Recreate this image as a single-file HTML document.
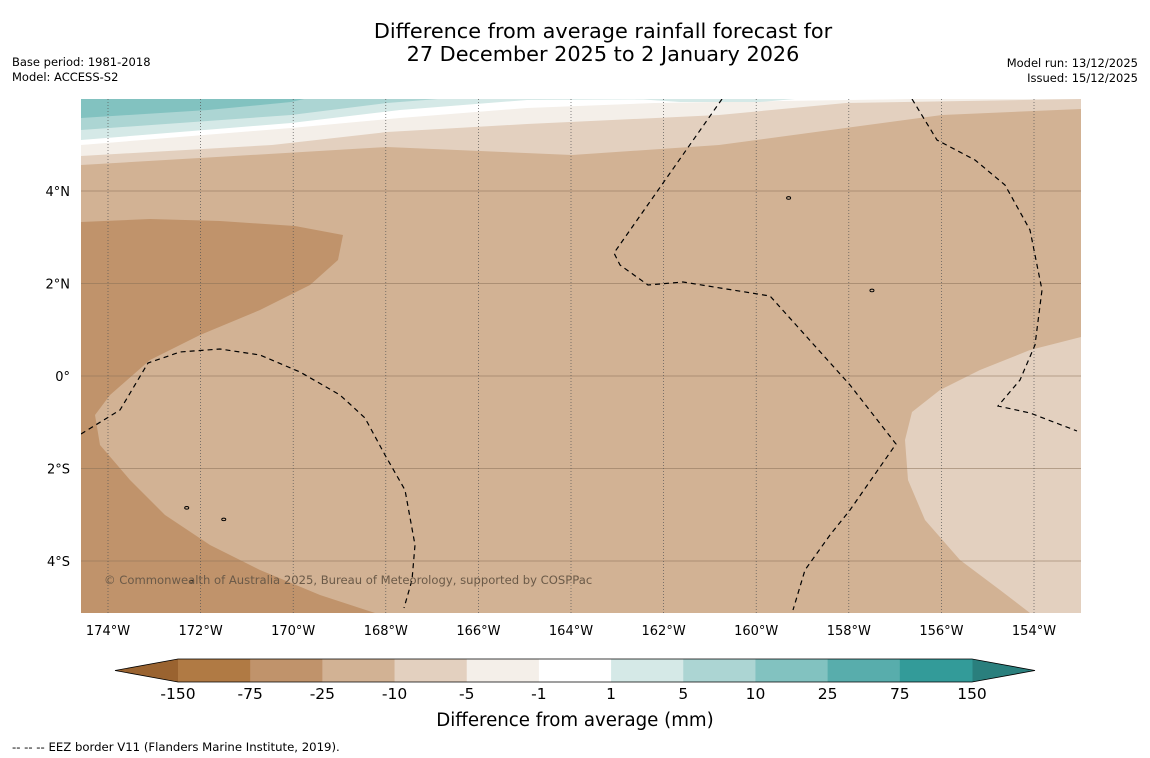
<!DOCTYPE html>
<html><head><meta charset="utf-8"><style>
body{margin:0;background:#fff;font-family:"DejaVu Sans",sans-serif}
svg{display:block}
</style></head><body>
<svg width="1150" height="758" xmlns="http://www.w3.org/2000/svg" font-family="DejaVu Sans, sans-serif">
<rect width="1150" height="758" fill="#fff"/>
<text x="603" y="38" font-size="20.8" text-anchor="middle">Difference from average rainfall forecast for</text>
<text x="603" y="61" font-size="20.8" text-anchor="middle">27 December 2025 to 2 January 2026</text>
<text x="12" y="66" font-size="11.5">Base period: 1981-2018</text>
<text x="12" y="81" font-size="11.5">Model: ACCESS-S2</text>
<text x="1138" y="67" font-size="11.5" text-anchor="end">Model run: 13/12/2025</text>
<text x="1138" y="82" font-size="11.5" text-anchor="end">Issued: 15/12/2025</text>
<defs><clipPath id="mc"><rect x="81" y="99" width="1000" height="514"/></clipPath></defs>
<g id="map" clip-path="url(#mc)"></g>
<g id="axes"></g>
<g id="cbar"></g>
<text x="575" y="726" font-size="18.2" text-anchor="middle">Difference from average (mm)</text>
<text x="12" y="751" font-size="11.7">--  --  -- EEZ border V11 (Flanders Marine Institute, 2019).</text>
</svg>
<script>
const lonTicks=[-174,-172,-170,-168,-166,-164,-162,-160,-158,-156,-154];
const latTicks=[4,2,0,-2,-4];
const cbLevels=["-150","-75","-25","-10","-5","-1","1","5","10","25","75","150"];
const cbColors=["#b07a44","#c0936b","#d2b294","#e3d0bf","#f4efe9","#ffffff","#d5e9e7","#acd5d3","#82c2c0","#58adac","#339b99"];
const extLow="#9a6330", extHigh="#2a7f7d";
const P=(x,y)=>[-174+(x-108)/46.3,(376-y)/46.25];
const regions=[
 {name:"band-neg10",fill:"#e3d0bf",pts:[[81,99],[1081,99],[1081,109],[942,115],[719,145],[572,155],[387,147],[81,165]].map(p=>P(...p))},
 {name:"band-neg5",fill:"#f4efe9",pts:[[81,99],[1081,99],[1081,99],[846,103],[719,115],[527,124],[387,132],[272,145],[81,156]].map(p=>P(...p))},
 {name:"band-zero",fill:"#ffffff",pts:[[81,99],[910,99],[782,101],[655,103],[527,108],[400,118],[291,128],[81,145]].map(p=>P(...p))},
 {name:"band-pos1",fill:"#d5e9e7",pts:[[81,99],[720,99],[527,100],[400,110],[291,123],[81,140]].map(p=>P(...p))},
 {name:"patch-pos1",fill:"#d5e9e7",pts:[[636,99],[795,99],[760,102],[680,102]].map(p=>P(...p))},
 {name:"band-pos5",fill:"#acd5d3",pts:[[81,99],[438,99],[387,103],[291,115],[81,130]].map(p=>P(...p))},
 {name:"band-pos10",fill:"#82c2c0",pts:[[81,99],[304,99],[291,102],[208,110],[81,118]].map(p=>P(...p))},
 {name:"region-neg25-west",fill:"#c0936b",pts:[[81,222],[150,219],[220,221],[295,226],[343,235],[338,260],[310,285],[260,310],[200,335],[150,360],[110,395],[95,415],[100,445],[130,480],[165,515],[210,545],[260,570],[320,595],[375,613],[81,613]].map(p=>P(...p))},
 {name:"region-neg5-east",fill:"#e3d0bf",pts:[[1081,337],[1030,350],[980,370],[940,390],[912,412],[905,440],[908,480],[925,520],[960,560],[1000,590],[1030,613],[1081,613]].map(p=>P(...p))}
];
const eez=[
 [[722,99],[614,253],[620,265],[648,285],[683,282],[770,296],[850,385],[896,444],[850,510],[830,535],[805,570],[793,610]],
 [[912,99],[937,140],[975,160],[1005,185],[1030,230],[1042,290],[1035,345],[1020,380],[998,406],[1030,413],[1077,431]],
 [[81,434],[120,410],[148,363],[180,352],[220,349],[260,355],[300,372],[340,395],[365,418],[385,455],[405,490],[415,545],[412,580],[404,608]]
].map(l=>l.map(p=>P(...p)));
const xS=lon=>108+(lon+174)*46.3, yS=lat=>376-lat*46.25;
const NS="http://www.w3.org/2000/svg";
function mk(t,a,par){const e=document.createElementNS(NS,t);for(const k in a)e.setAttribute(k,a[k]);par.appendChild(e);return e;}
const map=document.getElementById('map');
let r=mk('rect',{x:81,y:99,width:1000,height:514,fill:"#d2b294"},map);


const pth=pts=>pts.map((p,i)=>(i?'L':'M')+xS(p[0]).toFixed(1)+','+yS(p[1]).toFixed(1)).join('');
regions.forEach(g=>{const e=mk('path',{d:pth(g.pts)+'Z',fill:g.fill},map);

});
latTicks.forEach(l=>{const e=mk('line',{x1:81,x2:1081,y1:yS(l),y2:yS(l),stroke:"#8a7058","stroke-width":0.8,"stroke-opacity":0.7},map);

});
lonTicks.forEach(l=>{const e=mk('line',{x1:xS(l),x2:xS(l),y1:99,y2:613,stroke:"#555","stroke-width":0.7,"stroke-dasharray":"1,2"},map);

});
eez.forEach(l=>{const e=mk('path',{d:pth(l),fill:"none",stroke:"#000","stroke-width":1.2,"stroke-dasharray":"5,4"},map);

});
[[-172.3,-2.85],[-171.5,-3.1],[-172.2,-4.45],[-159.3,3.85],[-157.5,1.85]].forEach(p=>{const e=mk('ellipse',{cx:xS(p[0]),cy:yS(p[1]),rx:2,ry:1.3,fill:"none",stroke:"#000","stroke-width":1},map);

});
let c=mk('text',{x:104,y:584,"font-size":11.6,fill:"#6b5a48"},map);c.textContent="© Commonwealth of Australia 2025, Bureau of Meteorology, supported by COSPPac";


const ax=document.getElementById('axes');
lonTicks.forEach(l=>{const t=mk('text',{x:xS(l),y:635,"font-size":13,"text-anchor":"middle"},ax);t.textContent=Math.abs(l)+"°W";

});
latTicks.forEach(l=>{const t=mk('text',{x:70,y:yS(l)+5,"font-size":13,"text-anchor":"end"},ax);t.textContent=l===0?"0°":Math.abs(l)+"°"+(l>0?"N":"S");

});
const cb=document.getElementById('cbar');
const x0=178,x1=972,w=(x1-x0)/cbColors.length,cy0=659,cy1=682;
let el=mk('polygon',{points:`115,670.5 ${x0},${cy0} ${x0},${cy1}`,fill:extLow},cb);


el=mk('polygon',{points:`1035,670.5 ${x1},${cy0} ${x1},${cy1}`,fill:extHigh},cb);


cbColors.forEach((col,i)=>{const e=mk('rect',{x:x0+i*w,y:cy0,width:w+0.5,height:cy1-cy0,fill:col},cb);

});
el=mk('polygon',{points:`115,670.5 ${x0},${cy0} ${x1},${cy0} 1035,670.5 ${x1},${cy1} ${x0},${cy1}`,fill:"none",stroke:"#000","stroke-width":0.8},cb);


cbLevels.forEach((lv,i)=>{const t=mk('text',{x:x0+i*w,y:699,"font-size":15.5,"text-anchor":"middle"},cb);t.textContent=lv;

});
</script>
</body></html>
